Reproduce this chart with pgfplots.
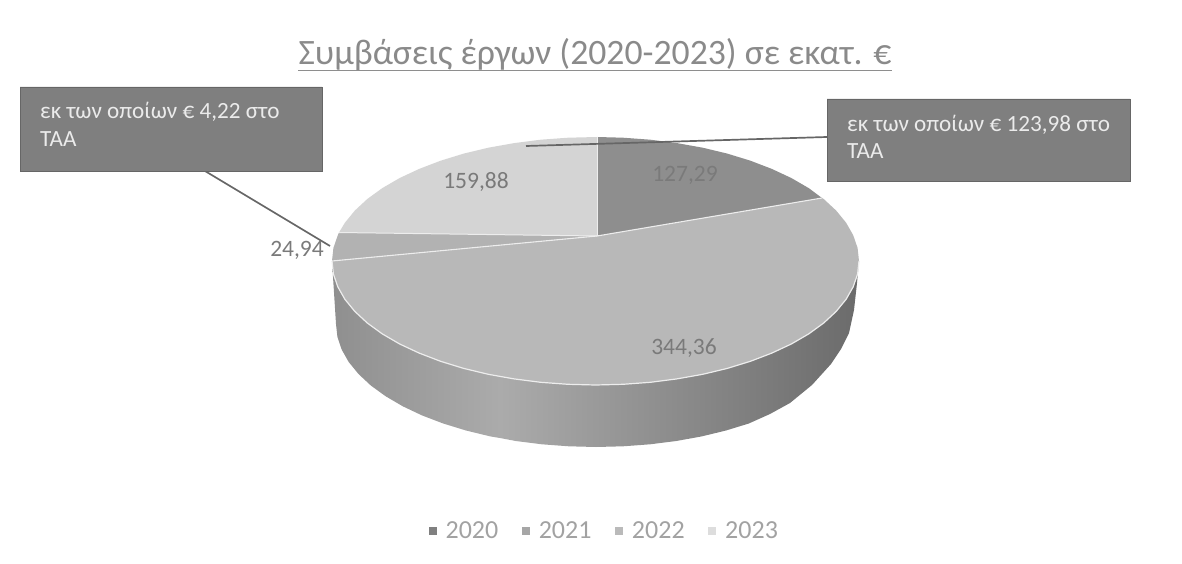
\documentclass[border=0pt]{standalone}
\usepackage{pgfplots}
\usepackage{fontspec}
\setmainfont{Carlito}
\pgfplotsset{compat=1.18}
\definecolor{cA}{HTML}{8E8E8E}
\definecolor{cB}{HTML}{B8B8B8}
\definecolor{cC}{HTML}{B2B2B2}
\definecolor{cD}{HTML}{D4D4D4}
\definecolor{boxc}{HTML}{7F7F7F}
\definecolor{boxl}{HTML}{666666}
\definecolor{txt}{HTML}{7A7A7A}
\definecolor{wallL}{HTML}{8F8F8F}
\definecolor{wallM}{HTML}{ABABAB}
\definecolor{wallR}{HTML}{6B6B6B}
\definecolor{edge}{HTML}{EDEDED}
\begin{document}
\begin{tikzpicture}
\begin{axis}[
    width=1182pt, height=564pt, scale only axis,
    xmin=0, xmax=1182, ymin=0, ymax=564, y dir=reverse,
    axis line style={draw=none}, ticks=none, clip=false,
    legend columns=4,
    legend image code/.code={\draw[#1, draw=none, fill] (0pt,-4pt) rectangle (8pt,4pt);},
    legend style={at={(0.5112,0.058)}, anchor=center, draw=none, fill=none,
      font=\fontsize{26}{26}\selectfont\color{txt!70},
      /tikz/every odd column/.append style={column sep=7pt},
      /tikz/every even column/.append style={column sep=21.5pt}},
    legend cell align=left,
  ]
% legend
\addlegendimage{color=cA!90!black}
\addlegendentry{2020}
\addlegendimage{color=cB!90!black}
\addlegendentry{2021}
\addlegendimage{color=cC!90!white}
\addlegendentry{2022}
\addlegendimage{color=cD!80!white}
\addlegendentry{2023}
% side wall, left and right part
\addplot[draw=none, left color=wallL, right color=wallM] coordinates {
  (332,261) (336,324) (337.4,336.9) (341.7,349.6) (348.7,362) (358.5,374) (370.8,385.5) (385.7,396.3)
  (402.8,406.3) (422,415.4) (443.2,423.5) (466,430.5) (490.3,436.4) (500,438) (500,300)
};
\addplot[draw=none, left color=wallM, right color=wallR] coordinates {
  (500,300) (500,438) (515.7,441) (541.9,444.3) (568.8,446.3) (596,447) (623.2,446.3) (650.1,444.3)
  (676.3,441) (701.7,436.4) (726,430.5) (748.8,423.5) (770,414) (790,403) (812,385) (831,364)
  (841,349) (849,333) (854,310) (857,283) (859,261)
};
% top of the pie
\addplot[fill=cB, draw=none] coordinates {
  (597,236) (822,198) (823.7,199) (836.2,210.6) (846.1,222.7) (853.2,235.2) (857.6,248) (859,261)
  (857.6,274) (853.2,286.8) (846.1,299.3) (836.2,311.4) (823.7,323) (808.7,333.9) (791.3,344)
  (771.8,353.1) (750.4,361.3) (727.3,368.4) (702.7,374.3) (676.9,378.9) (650.3,382.3) (623,384.3)
  (595.5,385) (568,384.3) (540.7,382.3) (514.1,378.9) (488.3,374.3) (463.7,368.4) (440.6,361.3)
  (419.2,353.1) (399.7,344) (382.3,333.9) (367.3,323) (354.8,311.4) (344.9,299.3) (337.8,286.8)
  (333.4,274) (332,261)
};
\addplot[fill=cA, draw=none] coordinates {
  (597,236) (597,137) (623,137.7) (650.3,139.7) (676.9,143.1) (702.7,147.7) (727.3,153.6) (750.4,160.7)
  (771.8,168.9) (791.3,178) (808.7,188.1) (822,198)
};
\addplot[fill=cC, draw=none] coordinates {
  (597,236) (332,261) (333.4,248) (337.8,235.2) (339,232.5)
};
\addplot[fill=cD, draw=none] coordinates {
  (597,236) (339,232.5) (344.9,222.7) (354.8,210.6) (367.3,199) (382.3,188.1) (399.7,178) (419.2,168.9)
  (440.6,160.7) (463.7,153.6) (488.3,147.7) (514.1,143.1) (540.7,139.7) (568,137.7) (597,137)
};
% slice borders
\addplot[edge, line width=1.1pt] coordinates {(822,198) (597,236) (332,261)};
\addplot[edge, line width=1pt] coordinates {(339,232.5) (597,236)};
\addplot[edge, line width=0.8pt] coordinates {(597,137) (597,236)};
\addplot[edge, line width=1.2pt] coordinates {
  (859,261) (857.6,274) (853.2,286.8) (846.1,299.3) (836.2,311.4) (823.7,323) (808.7,333.9) (791.3,344)
  (771.8,353.1) (750.4,361.3) (727.3,368.4) (702.7,374.3) (676.9,378.9) (650.3,382.3) (623,384.3)
  (595.5,385) (568,384.3) (540.7,382.3) (514.1,378.9) (488.3,374.3) (463.7,368.4) (440.6,361.3)
  (419.2,353.1) (399.7,344) (382.3,333.9) (367.3,323) (354.8,311.4) (344.9,299.3) (337.8,286.8)
  (333.4,274) (332,261)
};
% value labels
\addplot[draw=none, mark=none, nodes near coords, point meta=explicit symbolic,
  every node near coord/.append style={anchor=center, text=txt, font=\fontsize{23.5}{24}\selectfont}]
  table[meta index=2] {
  x   y   label
  685 175 127,29
  684 348 344,36
  297 250 24,94
  476 182 159,88
};
% callouts
\addplot[boxl, line width=1.7pt] coordinates {(526,146) (827,137)};
\addplot[boxl, line width=1.7pt] coordinates {(205,171) (330,246)};
\addplot[fill=boxc, draw=boxl, line width=0.8pt] coordinates {(20,87) (322,87) (322,171) (20,171) (20,87)};
\addplot[fill=boxc, draw=boxl, line width=0.8pt] coordinates {(827,99) (1130,99) (1130,181) (827,181) (827,99)};
\node[anchor=base west, inner sep=0pt, text=white!92!black, font=\fontsize{23.2}{24}\selectfont] at (axis cs:40,119) {εκ των οποίων € 4,22 στο};
\node[anchor=base west, inner sep=0pt, text=white!92!black, font=\fontsize{23.2}{24}\selectfont] at (axis cs:40,147) {ΤΑΑ};
\node[anchor=base west, inner sep=0pt, text=white!92!black, font=\fontsize{23.2}{24}\selectfont] at (axis cs:847,132) {εκ των οποίων € 123,98 στο};
\node[anchor=base west, inner sep=0pt, text=white!92!black, font=\fontsize{23.2}{24}\selectfont] at (axis cs:847,159) {ΤΑΑ};
% title
\addplot[txt!85, line width=1.8pt] coordinates {(298,70.5) (892,70.5)};
\node[anchor=base, inner sep=0pt, text=txt!88, font=\fontsize{35.7}{36}\selectfont] at (axis cs:595,65) {Συμβάσεις έργων (2020-2023) σε εκατ. €};
\end{axis}
\end{tikzpicture}
\end{document}
